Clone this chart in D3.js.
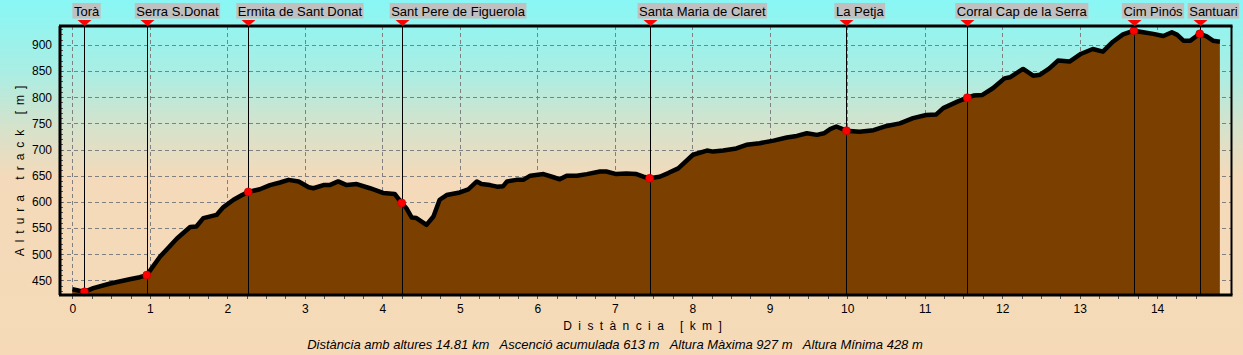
<!DOCTYPE html>
<html><head><meta charset="utf-8">
<script src="https://cdn.jsdelivr.net/npm/d3@7"></script>
<style>
html,body{margin:0;padding:0;overflow:hidden;}
svg{display:block;font-family:"Liberation Sans",Arial,sans-serif;}
</style></head>
<body>
<svg id="c" width="1243" height="355"></svg>
<script>
// ---- data ----
const distKm = [0.00,0.06,0.155,0.27,0.49,0.74,0.87,0.96,1.13,1.35,1.52,1.60,1.69,1.86,1.95,2.08,2.19,2.27,2.42,2.55,2.68,2.79,2.92,3.05,3.11,3.24,3.32,3.43,3.54,3.67,3.84,4.01,4.16,4.25,4.31,4.38,4.44,4.57,4.66,4.74,4.83,5.00,5.11,5.22,5.28,5.39,5.48,5.56,5.61,5.73,5.82,5.91,6.08,6.21,6.29,6.38,6.51,6.64,6.81,6.89,7.02,7.15,7.28,7.37,7.45,7.58,7.69,7.82,8.01,8.19,8.27,8.40,8.57,8.70,8.87,9.05,9.22,9.35,9.48,9.61,9.70,9.78,9.86,9.99,10.16,10.34,10.51,10.68,10.85,11.02,11.15,11.24,11.43,11.55,11.63,11.74,11.88,12.03,12.10,12.27,12.40,12.49,12.61,12.72,12.87,13.02,13.17,13.30,13.43,13.56,13.70,13.82,13.95,14.08,14.19,14.26,14.34,14.43,14.51,14.55,14.64,14.72,14.81];
const elevM = [433,431,428,435,444,452,456,460,495,530,552,553,569,575,590,604,613,619,624,632,637,642,639,628,626,632,632,639,632,634,626,617,615,598,588,570,569,556,572,604,613,618,624,639,634,632,629,630,639,642,642,650,653,647,643,650,650,653,658,658,653,654,653,648,645,648,655,664,690,698,696,698,702,709,712,717,723,726,731,728,731,739,744,736,734,737,745,750,760,766,767,779,792,799,803,804,817,836,838,854,841,843,855,870,868,883,892,887,906,920,927,924,921,917,924,919,908,908,917,921,916,908,906];
const wpNames = ["Torà","Serra S.Donat","Ermita de Sant Donat","Sant Pere de Figuerola","Santa Maria de Claret","La Petja","Corral Cap de la Serra","Cim Pinós","Santuari"];
const wpKm = [0.155,0.96,2.27,4.25,7.45,9.99,11.55,13.70,14.55];
const wpElev = [428,460,619,598,645,736,799,927,921];
const xTicks = [0,1,2,3,4,5,6,7,8,9,10,11,12,13,14];
const yTicks = [450,500,550,600,650,700,750,800,850,900];
const yTitle = "Altura track [m]";
const xTitle = "Distància [km]";
const summary = "Distància amb altures 14.81 km   Ascenció acumulada 613 m   Altura Màxima 927 m   Altura Mínima 428 m";

// ---- layout ----
const W = 1243, H = 355;
const L = 60, R = 1231.5, T = 26, B = 295;
const x = d3.scaleLinear().domain([-0.16, 14.96]).range([L, R]);
const y = d3.scaleLinear().domain([422, 936]).range([B, T]);
const svg = d3.select("#c");

const defs = svg.append("defs");
const g = defs.append("linearGradient").attr("id","bg").attr("x1",0).attr("y1",0).attr("x2",0).attr("y2",H).attr("gradientUnits","userSpaceOnUse");
g.append("stop").attr("offset",0).attr("stop-color","#88F7F5");
g.append("stop").attr("offset",0.2).attr("stop-color","#A9EEE4");
g.append("stop").attr("offset",0.36).attr("stop-color","#D6E2CB");
g.append("stop").attr("offset",0.5).attr("stop-color","#F4DABA");
g.append("stop").attr("offset",1).attr("stop-color","#F6DAB8");
svg.append("rect").attr("width",W).attr("height",H).attr("fill","url(#bg)");

// grid
const grid = svg.append("g").attr("stroke","#808080").attr("stroke-width",1).attr("stroke-dasharray","4,3");
grid.selectAll("line.v").data(xTicks).join("line")
  .attr("x1",d=>Math.round(x(d))+0.5).attr("x2",d=>Math.round(x(d))+0.5).attr("y1",T).attr("y2",B);
grid.selectAll("line.h").data(yTicks).join("line")
  .attr("x1",L).attr("x2",R).attr("y1",d=>Math.round(y(d))+0.5).attr("y2",d=>Math.round(y(d))+0.5);

const pts = distKm.map((d,i)=>[d, elevM[i]]);
svg.append("path").datum(pts)
  .attr("d", d3.area().x(d=>x(d[0])).y0(B).y1(d=>y(d[1])))
  .attr("fill","#7B4000");
svg.append("path").datum(pts)
  .attr("d", d3.line().x(d=>x(d[0])).y(d=>y(d[1])))
  .attr("fill","none").attr("stroke","#000").attr("stroke-width",4.5).attr("stroke-linejoin","round").attr("stroke-linecap","butt");

// waypoint lines
const wps = wpNames.map((n,i)=>({n, k:wpKm[i], e:wpElev[i]}));
svg.append("g").selectAll("line").data(wps).join("line")
  .attr("x1",d=>Math.round(x(d.k))+0.5).attr("x2",d=>Math.round(x(d.k))+0.5)
  .attr("y1",T).attr("y2",B).attr("stroke","#000").attr("stroke-width",1);
svg.append("g").selectAll("circle").data(wps).join("circle")
  .attr("cx",d=>x(d.k)).attr("cy",d=>y(d.e)).attr("r",4).attr("fill","#FF0000").attr("stroke","#C00000").attr("stroke-width",0.6);

// axes
const xAxis = d3.axisBottom(x).tickValues(xTicks).tickSize(0).tickPadding(9).tickFormat(d3.format("d"));
const ax = svg.append("g").attr("transform",`translate(0,${B})`).call(xAxis);
ax.select(".domain").remove();
ax.selectAll("text").attr("font-size",12).attr("fill","#000").attr("font-family","Liberation Sans, Arial");
const minorX = d3.range(0, 59).map(i=>i*0.25).filter(v=>v<=14.9);
svg.append("g").selectAll("line").data(minorX).join("line")
  .attr("x1",d=>Math.round(x(d))+0.5).attr("x2",d=>Math.round(x(d))+0.5)
  .attr("y1",B).attr("y2",B+4).attr("stroke","#555").attr("stroke-width",1);

const yAxis = d3.axisLeft(y).tickValues(yTicks).tickSize(0).tickPadding(8);
const ay = svg.append("g").attr("transform",`translate(${L},0)`).call(yAxis);
ay.select(".domain").remove();
ay.selectAll("text").attr("font-size",12).attr("fill","#000").attr("font-family","Liberation Sans, Arial");
ay.selectAll(".tick line").remove();
const minorY = d3.range(430, 936, 10);
svg.append("g").selectAll("line").data(minorY).join("line")
  .attr("x1",L).attr("x2",L+3).attr("y1",d=>Math.round(y(d))+0.5).attr("y2",d=>Math.round(y(d))+0.5)
  .attr("stroke","#555").attr("stroke-width",1);

// border
svg.append("line").attr("x1",L-1).attr("x2",R+1).attr("y1",T).attr("y2",T).attr("stroke","#000").attr("stroke-width",3);
svg.append("line").attr("x1",L-1).attr("x2",R+1).attr("y1",B).attr("y2",B).attr("stroke","#000").attr("stroke-width",3);
svg.append("line").attr("x1",L).attr("x2",L).attr("y1",T).attr("y2",B).attr("stroke","#000").attr("stroke-width",3);
svg.append("line").attr("x1",R).attr("x2",R).attr("y1",T).attr("y2",B).attr("stroke","#000").attr("stroke-width",2);

// triangles + labels
const lab = svg.append("g").selectAll("g").data(wps).join("g");
lab.append("path")
  .attr("d",d=>{const cx=Math.round(x(d.k))+0.5; return `M${cx-7},20L${cx+7},20L${cx},26Z`;})
  .attr("fill","#FF0000");
lab.each(function(d){
  const gg = d3.select(this);
  const bx = x(d.k) - 12;
  const rect = gg.append("rect").attr("y",3).attr("height",15.5).attr("fill","#C0C0C0");
  const t = gg.append("text").attr("x",bx+1.5).attr("y",15.5).attr("font-size",13).attr("fill","#000").text(d.n);
  const w = t.node().getComputedTextLength();
  let left = bx;
  if (left + w + 3 > 1241) left = 1241 - w - 3;
  t.attr("x", left+1.5);
  rect.attr("x",left).attr("width",w+3);
});

// titles
svg.append("text").attr("transform",`translate(24,${168}) rotate(-90)`)
  .attr("text-anchor","middle").attr("font-size",12).attr("letter-spacing","6px").text(yTitle);
svg.append("text").attr("x",(L+R)/2).attr("y",330).attr("text-anchor","middle")
  .attr("font-size",12).attr("letter-spacing","6.4px").text(xTitle);
svg.append("text").attr("x",615).attr("y",348.5).attr("text-anchor","middle")
  .attr("font-size",13).attr("font-style","italic").style("white-space","pre").text(summary);
</script>
</body></html>
